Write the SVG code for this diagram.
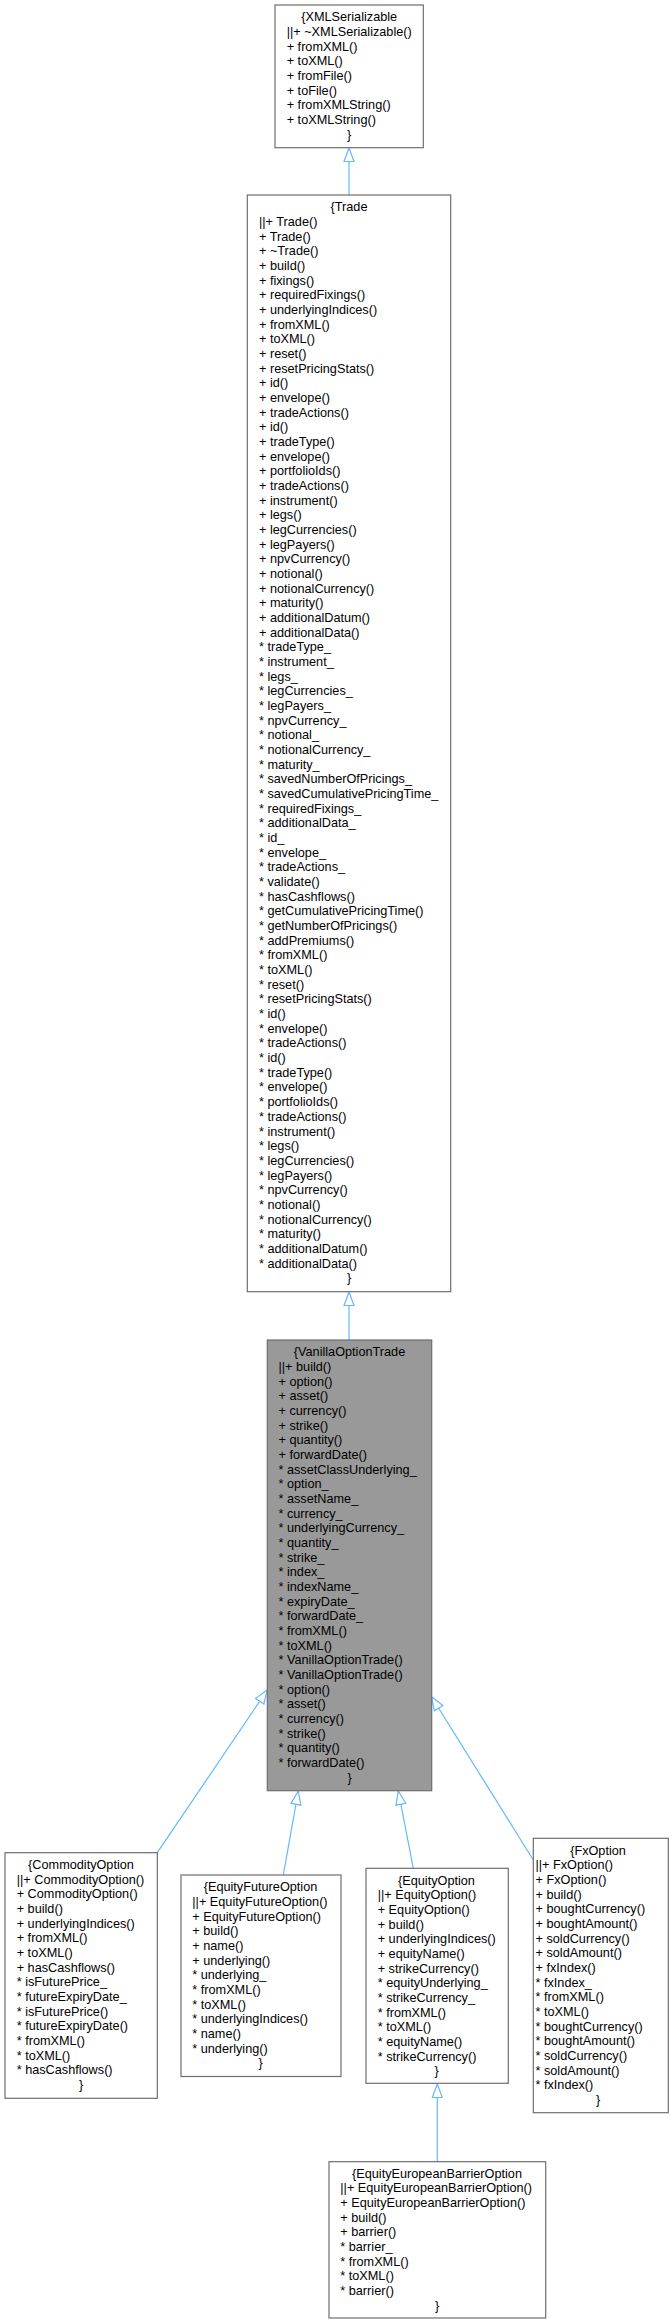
<svg xmlns="http://www.w3.org/2000/svg" width="672" height="2324" viewBox="0 0 672 2324">
<style>
.box{fill:#ffffff;stroke:#6e6e6e;stroke-width:1.2}
.hl{fill:#999999;stroke:#6e6e6e;stroke-width:1.2}
text{font-family:"Liberation Sans",Arial,Helvetica,sans-serif;font-size:12.7px;fill:#000000}
.m{text-anchor:middle}
.s{text-anchor:start}
.e{stroke:#63b8ff;stroke-width:1.2;fill:none;marker-end:url(#arr)}
</style>
<defs>
<marker id="arr" markerUnits="userSpaceOnUse" viewBox="-1 -6 16 12" markerWidth="16" markerHeight="12" refX="13.5" refY="0" orient="auto">
<path d="M0,-5 L13.5,0 L0,5 Z" fill="#ffffff" stroke="#63b8ff" stroke-width="1.2"/>
</marker>
</defs>
<rect width="672" height="2324" fill="#ffffff"/>

<g id="edges">
<line class="e" x1="349" y1="195" x2="349" y2="148"/>
<line class="e" x1="349" y1="1340" x2="349" y2="1292"/>
<line class="e" x1="157.3" y1="1852.7" x2="267.3" y2="1690"/>
<line class="e" x1="283.3" y1="1875" x2="298.3" y2="1791"/>
<line class="e" x1="413.3" y1="1868.3" x2="398.3" y2="1791"/>
<line class="e" x1="533.3" y1="1860" x2="431.5" y2="1696.7"/>
<line class="e" x1="437.3" y1="2161.7" x2="437.3" y2="2084"/>
</g>

<g id="XMLSerializable">
<rect class="box" x="275" y="5" width="148.3" height="142.7"/>
<text y="21.3"><tspan class="m" x="349.2">{XMLSerializable</tspan><tspan class="s" x="286.7" dy="14.67">||+ ~XMLSerializable()</tspan><tspan class="s" x="286.7" dy="14.67">+ fromXML()</tspan><tspan class="s" x="286.7" dy="14.67">+ toXML()</tspan><tspan class="s" x="286.7" dy="14.67">+ fromFile()</tspan><tspan class="s" x="286.7" dy="14.67">+ toFile()</tspan><tspan class="s" x="286.7" dy="14.67">+ fromXMLString()</tspan><tspan class="s" x="286.7" dy="14.67">+ toXMLString()</tspan><tspan class="m" x="349.2" dy="14.67">}</tspan></text>
</g>

<g id="Trade">
<rect class="box" x="247.3" y="195" width="203.4" height="1096.7"/>
<text y="211.3"><tspan class="m" x="349">{Trade</tspan><tspan class="s" x="259" dy="14.67">||+ Trade()</tspan><tspan class="s" x="259" dy="14.67">+ Trade()</tspan><tspan class="s" x="259" dy="14.67">+ ~Trade()</tspan><tspan class="s" x="259" dy="14.67">+ build()</tspan><tspan class="s" x="259" dy="14.67">+ fixings()</tspan><tspan class="s" x="259" dy="14.67">+ requiredFixings()</tspan><tspan class="s" x="259" dy="14.67">+ underlyingIndices()</tspan><tspan class="s" x="259" dy="14.67">+ fromXML()</tspan><tspan class="s" x="259" dy="14.67">+ toXML()</tspan><tspan class="s" x="259" dy="14.67">+ reset()</tspan><tspan class="s" x="259" dy="14.67">+ resetPricingStats()</tspan><tspan class="s" x="259" dy="14.67">+ id()</tspan><tspan class="s" x="259" dy="14.67">+ envelope()</tspan><tspan class="s" x="259" dy="14.67">+ tradeActions()</tspan><tspan class="s" x="259" dy="14.67">+ id()</tspan><tspan class="s" x="259" dy="14.67">+ tradeType()</tspan><tspan class="s" x="259" dy="14.67">+ envelope()</tspan><tspan class="s" x="259" dy="14.67">+ portfolioIds()</tspan><tspan class="s" x="259" dy="14.67">+ tradeActions()</tspan><tspan class="s" x="259" dy="14.67">+ instrument()</tspan><tspan class="s" x="259" dy="14.67">+ legs()</tspan><tspan class="s" x="259" dy="14.67">+ legCurrencies()</tspan><tspan class="s" x="259" dy="14.67">+ legPayers()</tspan><tspan class="s" x="259" dy="14.67">+ npvCurrency()</tspan><tspan class="s" x="259" dy="14.67">+ notional()</tspan><tspan class="s" x="259" dy="14.67">+ notionalCurrency()</tspan><tspan class="s" x="259" dy="14.67">+ maturity()</tspan><tspan class="s" x="259" dy="14.67">+ additionalDatum()</tspan><tspan class="s" x="259" dy="14.67">+ additionalData()</tspan><tspan class="s" x="259" dy="14.67">* tradeType_</tspan><tspan class="s" x="259" dy="14.67">* instrument_</tspan><tspan class="s" x="259" dy="14.67">* legs_</tspan><tspan class="s" x="259" dy="14.67">* legCurrencies_</tspan><tspan class="s" x="259" dy="14.67">* legPayers_</tspan><tspan class="s" x="259" dy="14.67">* npvCurrency_</tspan><tspan class="s" x="259" dy="14.67">* notional_</tspan><tspan class="s" x="259" dy="14.67">* notionalCurrency_</tspan><tspan class="s" x="259" dy="14.67">* maturity_</tspan><tspan class="s" x="259" dy="14.67">* savedNumberOfPricings_</tspan><tspan class="s" x="259" dy="14.67">* savedCumulativePricingTime_</tspan><tspan class="s" x="259" dy="14.67">* requiredFixings_</tspan><tspan class="s" x="259" dy="14.67">* additionalData_</tspan><tspan class="s" x="259" dy="14.67">* id_</tspan><tspan class="s" x="259" dy="14.67">* envelope_</tspan><tspan class="s" x="259" dy="14.67">* tradeActions_</tspan><tspan class="s" x="259" dy="14.67">* validate()</tspan><tspan class="s" x="259" dy="14.67">* hasCashflows()</tspan><tspan class="s" x="259" dy="14.67">* getCumulativePricingTime()</tspan><tspan class="s" x="259" dy="14.67">* getNumberOfPricings()</tspan><tspan class="s" x="259" dy="14.67">* addPremiums()</tspan><tspan class="s" x="259" dy="14.67">* fromXML()</tspan><tspan class="s" x="259" dy="14.67">* toXML()</tspan><tspan class="s" x="259" dy="14.67">* reset()</tspan><tspan class="s" x="259" dy="14.67">* resetPricingStats()</tspan><tspan class="s" x="259" dy="14.67">* id()</tspan><tspan class="s" x="259" dy="14.67">* envelope()</tspan><tspan class="s" x="259" dy="14.67">* tradeActions()</tspan><tspan class="s" x="259" dy="14.67">* id()</tspan><tspan class="s" x="259" dy="14.67">* tradeType()</tspan><tspan class="s" x="259" dy="14.67">* envelope()</tspan><tspan class="s" x="259" dy="14.67">* portfolioIds()</tspan><tspan class="s" x="259" dy="14.67">* tradeActions()</tspan><tspan class="s" x="259" dy="14.67">* instrument()</tspan><tspan class="s" x="259" dy="14.67">* legs()</tspan><tspan class="s" x="259" dy="14.67">* legCurrencies()</tspan><tspan class="s" x="259" dy="14.67">* legPayers()</tspan><tspan class="s" x="259" dy="14.67">* npvCurrency()</tspan><tspan class="s" x="259" dy="14.67">* notional()</tspan><tspan class="s" x="259" dy="14.67">* notionalCurrency()</tspan><tspan class="s" x="259" dy="14.67">* maturity()</tspan><tspan class="s" x="259" dy="14.67">* additionalDatum()</tspan><tspan class="s" x="259" dy="14.67">* additionalData()</tspan><tspan class="m" x="349" dy="14.67">}</tspan></text>
</g>

<g id="VanillaOptionTrade">
<rect class="hl" x="267.3" y="1340" width="164.4" height="450.7"/>
<text y="1356.2"><tspan class="m" x="349.5">{VanillaOptionTrade</tspan><tspan class="s" x="278.5" dy="14.67">||+ build()</tspan><tspan class="s" x="278.5" dy="14.67">+ option()</tspan><tspan class="s" x="278.5" dy="14.67">+ asset()</tspan><tspan class="s" x="278.5" dy="14.67">+ currency()</tspan><tspan class="s" x="278.5" dy="14.67">+ strike()</tspan><tspan class="s" x="278.5" dy="14.67">+ quantity()</tspan><tspan class="s" x="278.5" dy="14.67">+ forwardDate()</tspan><tspan class="s" x="278.5" dy="14.67">* assetClassUnderlying_</tspan><tspan class="s" x="278.5" dy="14.67">* option_</tspan><tspan class="s" x="278.5" dy="14.67">* assetName_</tspan><tspan class="s" x="278.5" dy="14.67">* currency_</tspan><tspan class="s" x="278.5" dy="14.67">* underlyingCurrency_</tspan><tspan class="s" x="278.5" dy="14.67">* quantity_</tspan><tspan class="s" x="278.5" dy="14.67">* strike_</tspan><tspan class="s" x="278.5" dy="14.67">* index_</tspan><tspan class="s" x="278.5" dy="14.67">* indexName_</tspan><tspan class="s" x="278.5" dy="14.67">* expiryDate_</tspan><tspan class="s" x="278.5" dy="14.67">* forwardDate_</tspan><tspan class="s" x="278.5" dy="14.67">* fromXML()</tspan><tspan class="s" x="278.5" dy="14.67">* toXML()</tspan><tspan class="s" x="278.5" dy="14.67">* VanillaOptionTrade()</tspan><tspan class="s" x="278.5" dy="14.67">* VanillaOptionTrade()</tspan><tspan class="s" x="278.5" dy="14.67">* option()</tspan><tspan class="s" x="278.5" dy="14.67">* asset()</tspan><tspan class="s" x="278.5" dy="14.67">* currency()</tspan><tspan class="s" x="278.5" dy="14.67">* strike()</tspan><tspan class="s" x="278.5" dy="14.67">* quantity()</tspan><tspan class="s" x="278.5" dy="14.67">* forwardDate()</tspan><tspan class="m" x="349.5" dy="14.67">}</tspan></text>
</g>

<g id="CommodityOption">
<rect class="box" x="5" y="1852.7" width="152.3" height="245.6"/>
<text y="1869"><tspan class="m" x="81">{CommodityOption</tspan><tspan class="s" x="16.7" dy="14.67">||+ CommodityOption()</tspan><tspan class="s" x="16.7" dy="14.67">+ CommodityOption()</tspan><tspan class="s" x="16.7" dy="14.67">+ build()</tspan><tspan class="s" x="16.7" dy="14.67">+ underlyingIndices()</tspan><tspan class="s" x="16.7" dy="14.67">+ fromXML()</tspan><tspan class="s" x="16.7" dy="14.67">+ toXML()</tspan><tspan class="s" x="16.7" dy="14.67">+ hasCashflows()</tspan><tspan class="s" x="16.7" dy="14.67">* isFuturePrice_</tspan><tspan class="s" x="16.7" dy="14.67">* futureExpiryDate_</tspan><tspan class="s" x="16.7" dy="14.67">* isFuturePrice()</tspan><tspan class="s" x="16.7" dy="14.67">* futureExpiryDate()</tspan><tspan class="s" x="16.7" dy="14.67">* fromXML()</tspan><tspan class="s" x="16.7" dy="14.67">* toXML()</tspan><tspan class="s" x="16.7" dy="14.67">* hasCashflows()</tspan><tspan class="m" x="81" dy="14.67">}</tspan></text>
</g>

<g id="EquityFutureOption">
<rect class="box" x="181" y="1875" width="160" height="201.5"/>
<text y="1891.3"><tspan class="m" x="260.5">{EquityFutureOption</tspan><tspan class="s" x="192.3" dy="14.67">||+ EquityFutureOption()</tspan><tspan class="s" x="192.3" dy="14.67">+ EquityFutureOption()</tspan><tspan class="s" x="192.3" dy="14.67">+ build()</tspan><tspan class="s" x="192.3" dy="14.67">+ name()</tspan><tspan class="s" x="192.3" dy="14.67">+ underlying()</tspan><tspan class="s" x="192.3" dy="14.67">* underlying_</tspan><tspan class="s" x="192.3" dy="14.67">* fromXML()</tspan><tspan class="s" x="192.3" dy="14.67">* toXML()</tspan><tspan class="s" x="192.3" dy="14.67">* underlyingIndices()</tspan><tspan class="s" x="192.3" dy="14.67">* name()</tspan><tspan class="s" x="192.3" dy="14.67">* underlying()</tspan><tspan class="m" x="260.5" dy="14.67">}</tspan></text>
</g>

<g id="EquityOption">
<rect class="box" x="366" y="1868.3" width="142.3" height="215"/>
<text y="1884.6"><tspan class="m" x="436.5">{EquityOption</tspan><tspan class="s" x="377.7" dy="14.67">||+ EquityOption()</tspan><tspan class="s" x="377.7" dy="14.67">+ EquityOption()</tspan><tspan class="s" x="377.7" dy="14.67">+ build()</tspan><tspan class="s" x="377.7" dy="14.67">+ underlyingIndices()</tspan><tspan class="s" x="377.7" dy="14.67">+ equityName()</tspan><tspan class="s" x="377.7" dy="14.67">+ strikeCurrency()</tspan><tspan class="s" x="377.7" dy="14.67">* equityUnderlying_</tspan><tspan class="s" x="377.7" dy="14.67">* strikeCurrency_</tspan><tspan class="s" x="377.7" dy="14.67">* fromXML()</tspan><tspan class="s" x="377.7" dy="14.67">* toXML()</tspan><tspan class="s" x="377.7" dy="14.67">* equityName()</tspan><tspan class="s" x="377.7" dy="14.67">* strikeCurrency()</tspan><tspan class="m" x="436.5" dy="14.67">}</tspan></text>
</g>

<g id="FxOption">
<rect class="box" x="533.3" y="1838.3" width="135" height="274.4"/>
<text y="1854.6"><tspan class="m" x="598">{FxOption</tspan><tspan class="s" x="535.5" dy="14.67">||+ FxOption()</tspan><tspan class="s" x="535.5" dy="14.67">+ FxOption()</tspan><tspan class="s" x="535.5" dy="14.67">+ build()</tspan><tspan class="s" x="535.5" dy="14.67">+ boughtCurrency()</tspan><tspan class="s" x="535.5" dy="14.67">+ boughtAmount()</tspan><tspan class="s" x="535.5" dy="14.67">+ soldCurrency()</tspan><tspan class="s" x="535.5" dy="14.67">+ soldAmount()</tspan><tspan class="s" x="535.5" dy="14.67">+ fxIndex()</tspan><tspan class="s" x="535.5" dy="14.67">* fxIndex_</tspan><tspan class="s" x="535.5" dy="14.67">* fromXML()</tspan><tspan class="s" x="535.5" dy="14.67">* toXML()</tspan><tspan class="s" x="535.5" dy="14.67">* boughtCurrency()</tspan><tspan class="s" x="535.5" dy="14.67">* boughtAmount()</tspan><tspan class="s" x="535.5" dy="14.67">* soldCurrency()</tspan><tspan class="s" x="535.5" dy="14.67">* soldAmount()</tspan><tspan class="s" x="535.5" dy="14.67">* fxIndex()</tspan><tspan class="m" x="598" dy="14.67">}</tspan></text>
</g>

<g id="EquityEuropeanBarrierOption">
<rect class="box" x="329" y="2161.7" width="216.7" height="156.3"/>
<text y="2177.5"><tspan class="m" x="437">{EquityEuropeanBarrierOption</tspan><tspan class="s" x="340.3" dy="14.67">||+ EquityEuropeanBarrierOption()</tspan><tspan class="s" x="340.3" dy="14.67">+ EquityEuropeanBarrierOption()</tspan><tspan class="s" x="340.3" dy="14.67">+ build()</tspan><tspan class="s" x="340.3" dy="14.67">+ barrier()</tspan><tspan class="s" x="340.3" dy="14.67">* barrier_</tspan><tspan class="s" x="340.3" dy="14.67">* fromXML()</tspan><tspan class="s" x="340.3" dy="14.67">* toXML()</tspan><tspan class="s" x="340.3" dy="14.67">* barrier()</tspan><tspan class="m" x="437" dy="14.67">}</tspan></text>
</g>
</svg>
